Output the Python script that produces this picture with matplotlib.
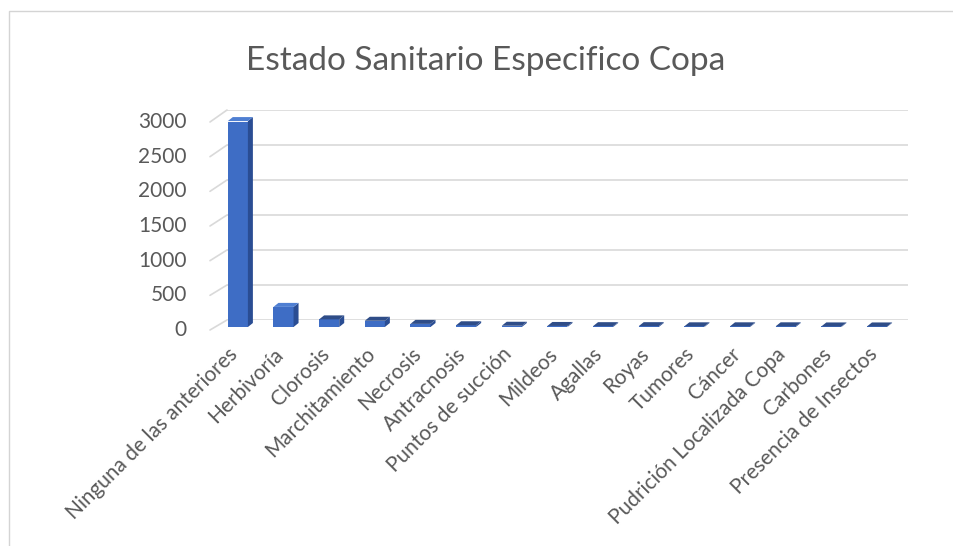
import matplotlib.pyplot as plt
import matplotlib.transforms as mtransforms
from matplotlib.patches import Polygon, Rectangle, ConnectionPatch

categories = ["Ninguna de las anteriores", "Herbivoría", "Clorosis", "Marchitamiento",
              "Necrosis", "Antracnosis", "Puntos de succión", "Mildeos", "Agallas",
              "Royas", "Tumores", "Cáncer", "Pudrición Localizada Copa", "Carbones",
              "Presencia de Insectos"]
values = [2970, 290, 110, 90, 45, 25, 18, 15, 12, 12, 10, 10, 10, 8, 8]
yticks = [0, 500, 1000, 1500, 2000, 2500, 3000]

W, H = 954, 546
plt.rcParams['font.family'] = ['Lato', 'DejaVu Sans']
fig = plt.figure(figsize=(W / 100, H / 100), dpi=100)


def box(left, top, right, bottom):
    return [left / W, 1 - bottom / H, (right - left) / W, (bottom - top) / H]


def px(dx, dy):
    return mtransforms.ScaledTranslation(dx / 100, dy / 100, fig.dpi_scale_trans)


grid_col = "#d9d9d9"
text_col = "#595959"

# back wall (gridlines)
back = fig.add_axes(box(227, 110, 908, 320), zorder=1)
back.set_facecolor("none")
back.set_ylim(0, 3000)
back.set_yticks(yticks)
back.set_xticks([])
back.grid(axis="y", color=grid_col, lw=1.2)
back.tick_params(length=0, labelleft=False)
for s in back.spines.values():
    s.set_visible(False)

# front plane (bars, labels)
front = fig.add_axes(box(210, 122, 893, 330), zorder=2)
front.set_facecolor("none")
front.set_ylim(0, 3000)
front.set_xlim(-0.61, 14.35)
for s in front.spines.values():
    s.set_visible(False)
front.set_xticks([])
front.set_yticks([])
x = list(range(len(categories)))

ytr = front.get_yaxis_transform() + px(-23, 0)
for v in yticks:
    front.text(0, v, str(v), transform=ytr, ha="right", va="center",
               fontsize=15, color=text_col, clip_on=False)

xtr = front.get_xaxis_transform() + px(-10, -14)
for xi, lab in zip(x, categories):
    front.text(xi, 0, lab, transform=xtr, rotation=45, ha="right", va="top",
               rotation_mode="anchor", fontsize=15, color=text_col, clip_on=False)

# slanted floor/wall edges
for v in yticks:
    con = ConnectionPatch(xyA=(0, v), coordsA=front.get_yaxis_transform(),
                          xyB=(0, v), coordsB=back.get_yaxis_transform(),
                          color=grid_col, lw=1.2)
    fig.add_artist(con)

# bars with a bit of depth
bw = 0.44
dx, dy = 5, 4
front.bar(x, values, width=bw, color="#3e6dc5", transform=front.transData + px(0, 3), zorder=3)
ident = mtransforms.IdentityTransform()
for xi, v in zip(x, values):
    (xl, y0), (xr, yv) = front.transData.transform([(xi - bw / 2, 0), (xi + bw / 2, v)])
    y0 += 3
    yv += 3
    side = Polygon([(xr, y0), (xr, yv), (xr + dx, yv + dy), (xr + dx, y0 + dy)],
                   closed=True, fc="#2a4d93", ec="none", transform=ident, zorder=3)
    top = Polygon([(xl, yv), (xr, yv), (xr + dx, yv + dy), (xl + dx, yv + dy)],
                  closed=True, fc="#4f7fd2" if v > 200 else "#2f4d88", ec="none",
                  transform=ident, zorder=3)
    front.add_patch(side)
    front.add_patch(top)
    side.set_clip_on(False)
    top.set_clip_on(False)

# chart frame and title
fig.add_artist(Rectangle((9 / W, -0.1), 1.2, 1.1 - 11 / H, transform=fig.transFigure,
                         fc="none", ec="#d4d4d4", lw=1))
fig.text(486 / W, 1 - 70 / H, "Estado Sanitario Especifico Copa", ha="center",
         va="baseline", fontsize=24, color=text_col)

fig.savefig("out.png", dpi=100)
